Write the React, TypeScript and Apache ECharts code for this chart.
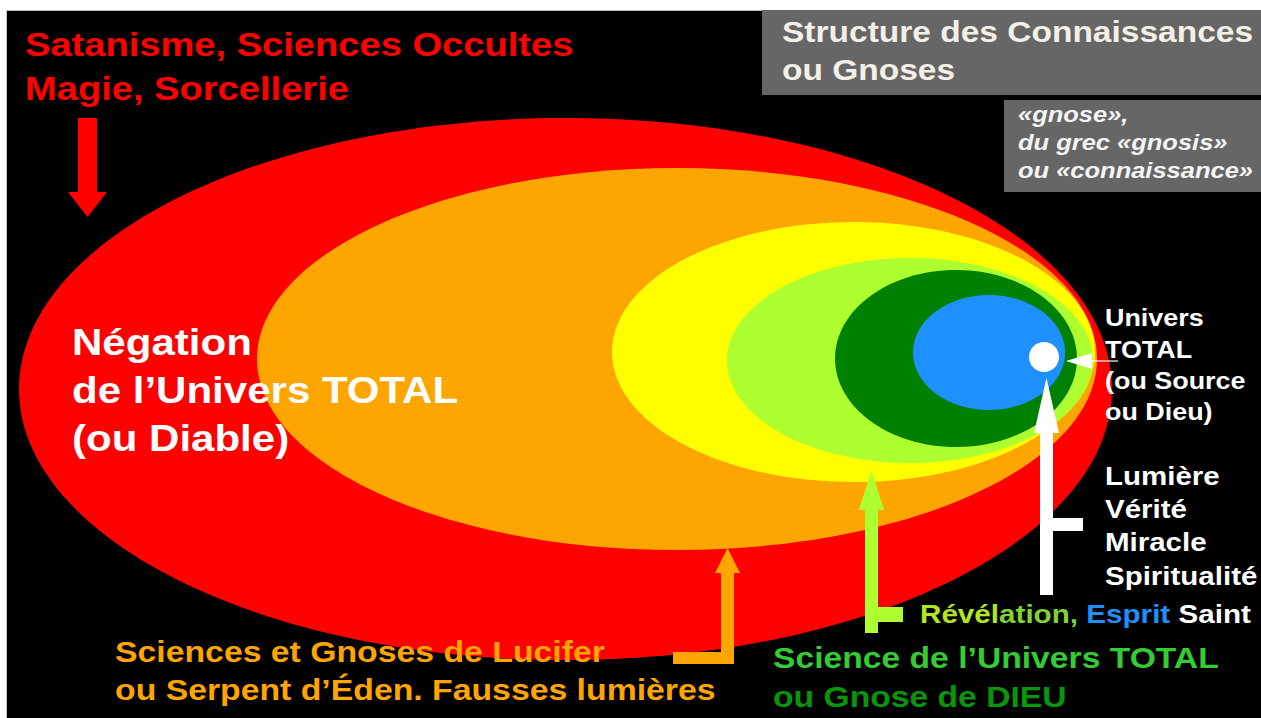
import React, { useEffect, useRef } from "react";
import * as echarts from "echarts";

// ---- Data: nested spheres of knowledge (outer → inner), extents in picture units ----
const ringNames = [
  "Négation (Diable)",
  "Gnoses de Lucifer",
  "Fausses lumières",
  "Révélation",
  "Gnose de DIEU",
  "Esprit Saint",
  "Univers TOTAL",
];
const ringLeft = [19, 257, 612, 727, 835, 913, 1029];
const ringRight = [1112, 1097, 1095, 1093, 1077, 1065, 1059];
const ringTop = [118, 168, 222, 258, 270, 295, 342];
const ringBottom = [660, 550, 482, 463, 447, 410, 372];
const ringColors = ["#ff0000", "#ffa500", "#ffff00", "#adff2f", "#008000", "#1e90ff", "#ffffff"];

// ---- Texts ----
const titleLines = ["Satanisme, Sciences Occultes", "Magie, Sorcellerie"];
const negationLines = ["Négation", "de l’Univers TOTAL", "(ou Diable)"];
const structureLines = ["Structure des Connaissances", "ou Gnoses"];
const gnoseLines = ["«gnose»,", "du grec «gnosis»", "ou «connaissance»"];
const universLines = ["Univers", "TOTAL", "(ou Source", "ou Dieu)"];
const lumiereLines = ["Lumière", "Vérité", "Miracle", "Spiritualité"];
const revelationParts = ["Révél", "ation, ", "Esprit ", "Saint"];
const scienceLines = ["Science de l’Univers TOTAL", "ou Gnose de DIEU"];
const luciferLines = ["Sciences et Gnoses de Lucifer", "ou Serpent d’Éden. Fausses lumières"];

const FAMILY = "'Liberation Sans', Arial, Helvetica, sans-serif";

function txt(
  text: string,
  x: number,
  y: number,
  size: number,
  scaleX: number,
  fill: string,
  italic = false
) {
  return {
    type: "text",
    x,
    y,
    scaleX,
    z: 20,
    silent: true,
    style: {
      text,
      x: 0,
      y: 0,
      font: `${italic ? "italic " : ""}bold ${size}px ${FAMILY}`,
      fill,
      align: "left",
      verticalAlign: "middle",
    },
  };
}

function rect(x: number, y: number, w: number, h: number, fill: string, z = 15) {
  return { type: "rect", z, silent: true, shape: { x, y, width: w, height: h }, style: { fill } };
}

function tri(points: number[][], fill: string) {
  return { type: "polygon", z: 15, silent: true, shape: { points }, style: { fill } };
}

export default function App() {
  const ref = useRef<HTMLDivElement>(null);

  useEffect(() => {
    if (!ref.current) return;
    const chart = echarts.init(ref.current, undefined, { renderer: "svg" });

    const data = ringNames.map((name, i) => ({
      name,
      value: [ringLeft[i], ringRight[i], ringTop[i], ringBottom[i]],
    }));

    const renderItem = (params: any, api: any) => {
      const p1 = api.coord([api.value(0), api.value(2)]);
      const p2 = api.coord([api.value(1), api.value(3)]);
      return {
        type: "ellipse",
        shape: {
          cx: (p1[0] + p2[0]) / 2,
          cy: (p1[1] + p2[1]) / 2,
          rx: Math.abs(p2[0] - p1[0]) / 2,
          ry: Math.abs(p2[1] - p1[1]) / 2,
        },
        style: { fill: ringColors[params.dataIndex] },
      };
    };

    const elements: any[] = [
      // black board
      { type: "rect", z: 0, silent: true, shape: { x: 6, y: 10, width: 1255, height: 708 }, style: { fill: "#000000" } },
      { type: "line", z: 1, silent: true, shape: { x1: 6.5, y1: 10, x2: 6.5, y2: 718 }, style: { stroke: "#c0c0c0", lineWidth: 1 } },
      { type: "line", z: 1, silent: true, shape: { x1: 6, y1: 10.5, x2: 1261, y2: 10.5 }, style: { stroke: "#c0c0c0", lineWidth: 1 } },
      // grey boxes
      rect(762, 10, 499, 85, "#666666", 15),
      rect(1004, 100, 257, 92, "#666666", 15),
      // red arrow
      rect(78, 118, 19, 75, "#ff0000"),
      tri([[68, 192], [107, 192], [87.5, 217]], "#ff0000"),
      // orange arrow
      rect(721, 572, 13, 92, "#ffa500"),
      rect(673, 652, 61, 12, "#ffa500"),
      tri([[715, 573], [740, 573], [727.5, 548]], "#ffa500"),
      // light green arrow
      rect(865, 508, 13, 125, "#adff2f"),
      rect(865, 607, 38, 15, "#adff2f"),
      tri([[859, 510], [884, 510], [871.5, 470]], "#adff2f"),
      // white vertical arrow
      rect(1040, 432, 13, 163, "#ffffff"),
      rect(1040, 518, 43, 13, "#ffffff"),
      tri([[1034, 433], [1059, 433], [1046.5, 378]], "#ffffff"),
      // white left arrow
      tri([[1066, 361], [1092, 353], [1092, 369]], "#ffffff"),
      { type: "line", z: 15, silent: true, shape: { x1: 1092, y1: 361, x2: 1118, y2: 361 }, style: { stroke: "#ffffff", lineWidth: 1.2 } },
    ];

    titleLines.forEach((t, i) => elements.push(txt(t, 25, 45 + i * 44, 33, 1.155, "#ff0000")));
    negationLines.forEach((t, i) => elements.push(txt(t, 72, 343 + i * 48, 36, 1.168, "#ffffff")));
    structureLines.forEach((t, i) => elements.push(txt(t, 782, 32 + i * 38, 30, 1.117, "#f4f0e8")));
    gnoseLines.forEach((t, i) => elements.push(txt(t, 1018, 114 + i * 28, 22, 1.158, "#f4f4f4", true)));
    universLines.forEach((t, i) => elements.push(txt(t, 1105, 318 + i * 31.3, 23, 1.17, "#ffffff")));
    lumiereLines.forEach((t, i) => elements.push(txt(t, 1105, 476 + i * 33.4, 25, 1.18, "#ffffff")));
    elements.push(txt(scienceLines[0], 773, 658, 29, 1.161, "#33cc33"));
    elements.push(txt(scienceLines[1], 773, 697, 29, 1.161, "#0a960a"));
    elements.push(txt(luciferLines[0], 115, 652, 29, 1.165, "#ffa500"));
    elements.push(txt(luciferLines[1], 115, 690, 29, 1.165, "#ffa500"));

    const rf = `bold 25px ${FAMILY}`;
    elements.push({
      type: "text",
      x: 920,
      y: 614,
      scaleX: 1.185,
      z: 20,
      silent: true,
      style: {
        text: `{a|${revelationParts[0]}}{b|${revelationParts[1]}}{c|${revelationParts[2]}}{d|${revelationParts[3]}}`,
        x: 0,
        y: 0,
        font: rf,
        fill: "#ffffff",
        align: "left",
        verticalAlign: "middle",
        rich: {
          a: { font: rf, fill: "#b4e61e" },
          b: { font: rf, fill: "#7fd431" },
          c: { font: rf, fill: "#1e90ff" },
          d: { font: rf, fill: "#ffffff" },
        },
      },
    });

    chart.setOption({
      animation: false,
      backgroundColor: "#ffffff",
      grid: { left: 0, right: 0, top: 0, bottom: 0 },
      xAxis: { type: "value", min: 0, max: 1261, show: false },
      yAxis: { type: "value", min: 0, max: 718, inverse: true, show: false },
      tooltip: { show: false },
      series: [
        {
          type: "custom",
          name: "Structure des Connaissances",
          renderItem,
          data,
          encode: { x: [0, 1], y: [2, 3] },
          silent: true,
          clip: false,
          z: 2,
        },
      ],
      graphic: { elements },
    });

    return () => chart.dispose();
  }, []);

  return (
    <div
      ref={ref}
      style={{ position: "absolute", left: 0, top: 0, width: 1261, height: 718 }}
    />
  );
}
